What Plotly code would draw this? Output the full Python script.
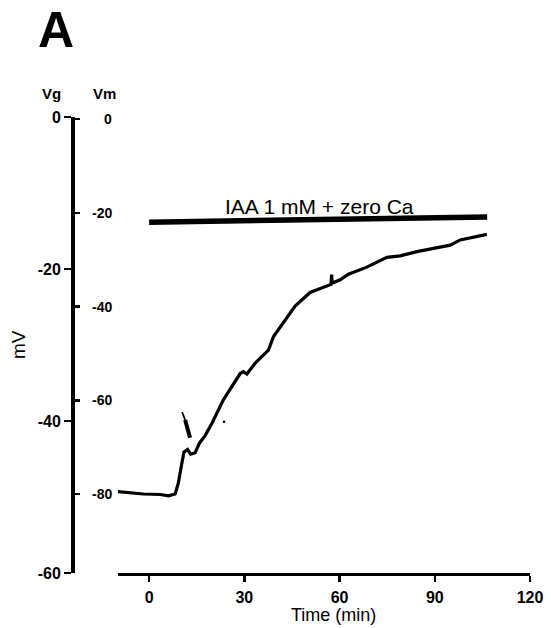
import plotly.graph_objects as go

# ---- data ----
time_min = [-9.8, -6.0, -1.8, 3.5, 6.1, 8.2, 9.2, 10.3, 11.0, 12.1, 13.1, 14.5, 15.9,
            17.6, 19.8, 23.4, 26.1, 28.7, 29.7, 30.8, 33.4, 34.5, 35.5, 37.6, 39.2,
            42.9, 46.0, 50.7, 54.4, 57.3, 57.5, 57.7, 60.2, 62.8, 68.6, 74.9, 79.1,
            84.4, 89.6, 94.9, 98.0, 102.2, 106.4]
vm_mv = [-79.5, -79.8, -80.0, -80.1, -80.4, -80.0, -77.7, -73.5, -71.0, -70.5, -71.5,
         -71.2, -69.1, -67.6, -64.9, -59.9, -57.1, -54.3, -53.9, -54.4, -52.1, -51.4,
         -50.6, -49.3, -46.4, -42.9, -39.9, -37.0, -36.1, -35.3, -33.2, -35.0, -34.3,
         -33.1, -31.6, -29.5, -29.2, -28.3, -27.6, -26.9, -25.8, -25.2, -24.6]

bar_time = [0.0, 106.5]
bar_vm = [-22.0, -20.9]
bar_label = "IAA 1 mM + zero Ca"

arrow_thin_t = [10.4, 11.35]
arrow_thin_v = [-62.5, -64.2]
arrow_thick_t = [11.35, 12.9]
arrow_thick_v = [-64.2, -68.0]

dot_t = [23.6]
dot_v = [-64.6]

x_ticks = [0, 30, 60, 90, 120]
vg_ticks = [0, -20, -40, -60]
vg_tick_labels = ["0", "-20", "-40", "-60"]
vm_ticks = [0, -20, -40, -60, -80]
vm_tick_labels = ["0", "-20", "-40", "-60", "-80"]

FONT = "Liberation Sans, Arial, Helvetica, sans-serif"

W, H = 551, 628
L, R, T, B = 72, 530, 117, 573  # plot-area edges in window pixels

fig = go.Figure()

# invisible trace so the Vg axis is drawn
fig.add_trace(go.Scatter(x=[None], y=[None], yaxis="y", mode="lines",
                         showlegend=False, hoverinfo="skip"))
fig.add_trace(go.Scatter(x=time_min, y=vm_mv, yaxis="y2", mode="lines",
                         line=dict(color="black", width=3.2), hoverinfo="skip"))
fig.add_trace(go.Scatter(x=bar_time, y=bar_vm, yaxis="y2", mode="lines",
                         line=dict(color="black", width=5.5), hoverinfo="skip"))
fig.add_trace(go.Scatter(x=arrow_thin_t, y=arrow_thin_v, yaxis="y2", mode="lines",
                         line=dict(color="black", width=1.8), hoverinfo="skip"))
fig.add_trace(go.Scatter(x=arrow_thick_t, y=arrow_thick_v, yaxis="y2", mode="lines",
                         line=dict(color="black", width=4), hoverinfo="skip"))
fig.add_trace(go.Scatter(x=dot_t, y=dot_v, yaxis="y2", mode="markers",
                         marker=dict(color="black", size=2.5), hoverinfo="skip"))

x0 = (118 - L) / (R - L)

fig.update_layout(
    width=W, height=H,
    margin=dict(l=L, r=W - R, t=T, b=H - B, autoexpand=False),
    paper_bgcolor="white", plot_bgcolor="white",
    showlegend=False,
    font=dict(family=FONT, color="black"),
    xaxis=dict(domain=[x0, 1], range=[-9.8, 120], tickvals=x_ticks,
               showline=True, linewidth=3, linecolor="black",
               ticks="outside", ticklen=6, tickwidth=2.5, tickcolor="black",
               showgrid=False, zeroline=False, anchor="y", automargin=False,
               tickfont=dict(family=FONT, size=16, weight="bold"),
               ticklabelstandoff=2),
    yaxis=dict(range=[-60, 0], tickvals=vg_ticks, ticktext=vg_tick_labels,
               anchor="free", position=0,
               side="left", showline=True, linewidth=3.5, linecolor="black",
               ticks="outside", ticklen=7, tickwidth=2.5, tickcolor="black",
               showgrid=False, zeroline=False, automargin=False,
               tickfont=dict(family=FONT, size=16, weight="bold")),
    yaxis2=dict(range=[-96.85, 0.43], tickvals=vm_ticks, overlaying="y",
                anchor="free", position=0, side="right", showline=False,
                ticks="outside", ticklen=7, tickwidth=2.5, tickcolor="black",
                showticklabels=False, showgrid=False, zeroline=False,
                automargin=False),
)

def px_x(p):
    return (p - L) / (R - L)

def px_y(p):
    return (B - p) / (B - T)

ann = []
for v, lab_text in zip(vm_ticks, vm_tick_labels):
    ann.append(dict(x=px_x(114), y=v, xref="paper", yref="y2", text=lab_text,
                    showarrow=False, xanchor="right", yanchor="middle",
                    font=dict(family=FONT, size=14, weight="bold")))

def lab(px, py, text, size, bold=False, angle=0):
    f = dict(family=FONT, size=size)
    if bold:
        f["weight"] = "bold"
    return dict(x=px_x(px), y=px_y(py), xref="paper", yref="paper", text=text,
                showarrow=False, xanchor="center", yanchor="middle",
                textangle=angle, font=f)

ann += [
    lab(56, 30, "A", 50, bold=True),
    lab(51, 93, "Vg", 15, bold=True),
    lab(104, 93, "Vm", 15, bold=True),
    lab(18, 345, "mV", 19, angle=-90),
    lab(333, 615, "Time (min)", 18),
    lab(319, 207, bar_label, 21),
]
fig.update_layout(annotations=ann)

fig.write_html("out.html",
               config={"displayModeBar": False, "staticPlot": True},
               post_script="document.body.style.margin='0';"
                           "document.body.style.overflow='hidden';")
